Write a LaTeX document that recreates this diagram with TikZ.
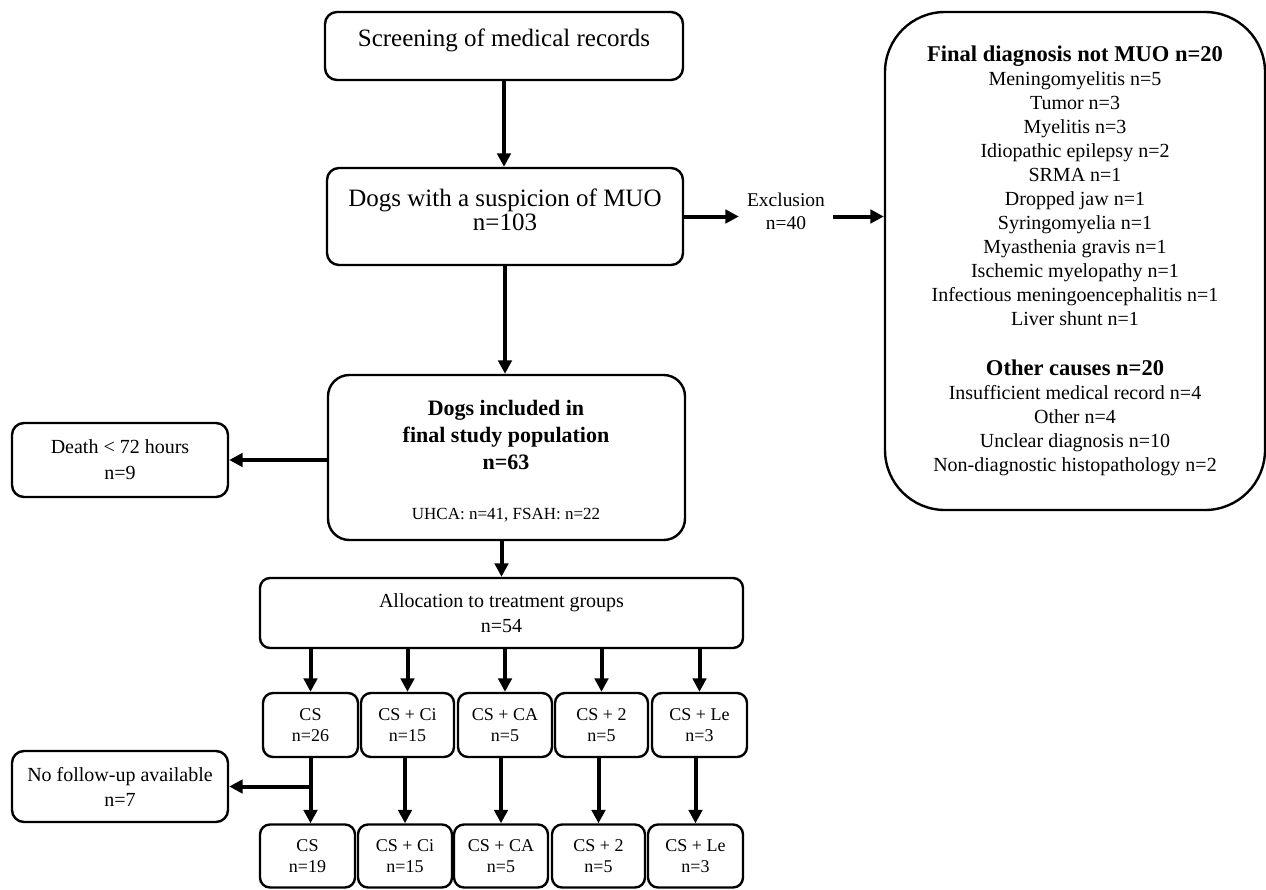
\documentclass[tikz,border=0pt]{standalone}
\usepackage{fontspec}
\setmainfont{Liberation Serif}
\usetikzlibrary{arrows.meta,calc}
\begin{document}
\begin{tikzpicture}[x=0.75pt,y=-0.75pt,
  box/.style={draw, line width=1.8pt, inner sep=0pt, align=center},
  arr/.style={line width=3pt, -{Triangle[length=10pt,width=10pt]}},
  txt/.style={inner sep=0pt, align=center},
  rowbox/.style={box, rounded corners=7.5pt, minimum height=63*0.75pt, font=\fontsize{13.5}{15.5}\selectfont},
]
\path[use as bounding box, fill=white] (0,0) rectangle (1266,889);

% main column
\node[box, rounded corners=9pt, minimum width=358*0.75pt, minimum height=68*0.75pt] (screen) at (504,46) {};
\node[txt, font=\fontsize{18.75}{18}\selectfont] (screen-t) at (504,40) {Screening of medical records};

\node[box, rounded corners=9pt, minimum width=356*0.75pt, minimum height=97*0.75pt] (susp) at (505,216.5) {};
\node[txt, font=\fontsize{18.75}{18}\selectfont] (susp-t) at (505,210) {Dogs with a suspicion of MUO\\n=103};

\node[box, rounded corners=16pt, minimum width=357*0.75pt, minimum height=165*0.75pt] (incl) at (506.5,457.5) {};
\node[txt, font=\fontsize{16.5}{20.25}\selectfont\bfseries] (incl-t) at (506,434.5) {Dogs included in\\final study population\\n=63};
\node[txt, font=\fontsize{12.75}{15}\selectfont] (incl-s) at (506,515) {UHCA: n=41, FSAH: n=22};

\node[box, rounded corners=7.5pt, minimum width=483*0.75pt, minimum height=70*0.75pt, font=\fontsize{15}{18.75}\selectfont] (alloc) at (501.5,613) {Allocation to treatment groups\\n=54};

% exclusion
\node[txt, inner xsep=6pt, font=\fontsize{14.6}{17.25}\selectfont] (excl) at (786,211.5) {Exclusion\\n=40};

\node[box, rounded corners=45pt, minimum width=380*0.75pt, minimum height=498*0.75pt, font=\fontsize{15}{18}\selectfont] (big) at (1075,261)
{{\fontsize{16.9}{18}\selectfont\bfseries Final diagnosis not MUO n=20}\\
Meningomyelitis n=5\\
Tumor n=3\\
Myelitis n=3\\
Idiopathic epilepsy n=2\\
SRMA n=1\\
Dropped jaw n=1\\
Syringomyelia n=1\\
Myasthenia gravis n=1\\
Ischemic myelopathy n=1\\
Infectious meningoencephalitis n=1\\
Liver shunt n=1\\[19.5pt]
{\fontsize{16.9}{18}\selectfont\bfseries Other causes n=20}\\
Insufficient medical record n=4\\
Other n=4\\
Unclear diagnosis n=10\\
Non-diagnostic histopathology n=2};

% side boxes
\node[box, rounded corners=9pt, minimum width=216*0.75pt, minimum height=74*0.75pt, font=\fontsize{15}{19.5}\selectfont] (death) at (120,460) {Death < 72 hours\\n=9};
\node[box, rounded corners=9pt, minimum width=216*0.75pt, minimum height=71*0.75pt, font=\fontsize{15}{18.75}\selectfont] (nofu) at (120,786.5) {No follow-up available\\n=7};

% treatment rows
\node[rowbox, minimum height=64*0.75pt, minimum width=95*0.75pt] (r1a) at (310.5,725) {CS\\n=26};
\node[rowbox, minimum height=64*0.75pt, minimum width=93*0.75pt] (r1b) at (407.5,725) {CS + Ci\\n=15};
\node[rowbox, minimum height=64*0.75pt, minimum width=94*0.75pt] (r1c) at (505,725) {CS + CA\\n=5};
\node[rowbox, minimum height=64*0.75pt, minimum width=93*0.75pt] (r1d) at (601.5,725) {CS + 2\\n=5};
\node[rowbox, minimum height=64*0.75pt, minimum width=95*0.75pt] (r1e) at (699.5,725) {CS + Le\\n=3};

\node[rowbox, minimum width=95*0.75pt] (r2a) at (307.5,856) {CS\\n=19};
\node[rowbox, minimum width=94*0.75pt] (r2b) at (405,856) {CS + Ci\\n=15};
\node[rowbox, minimum width=94*0.75pt] (r2c) at (501,856) {CS + CA\\n=5};
\node[rowbox, minimum width=93*0.75pt] (r2d) at (598.5,856) {CS + 2\\n=5};
\node[rowbox, minimum width=95*0.75pt] (r2e) at (695.5,856) {CS + Le\\n=3};

% connectors
\draw[arr] (screen.south) -- (screen.south |- susp.north);
\draw[arr] (susp.south) -- (susp.south |- incl.north);
\draw[arr] (alloc.north |- incl.south) -- (alloc.north);
\draw[arr] (susp.east) -- (excl.west |- susp.east);
\draw[arr] (excl.east |- susp.east) -- (big.west |- susp.east);
\draw[arr] (incl.west |- death.east) -- (death.east);

\draw[arr] (alloc.south -| r1a.north) -- (r1a.north);
\draw[arr] (alloc.south -| r1b.north) -- (r1b.north);
\draw[arr] (alloc.south -| r1c.north) -- (r1c.north);
\draw[arr] (alloc.south -| r1d.north) -- (r1d.north);
\draw[arr] (alloc.south -| r1e.north) -- (r1e.north);

\draw[arr] (r1a.south) -- (r1a.south |- r2a.north);
\draw[arr] (r2b.north |- r1b.south) -- (r2b.north);
\draw[arr] (r2c.north |- r1c.south) -- (r2c.north);
\draw[arr] (r2d.north |- r1d.south) -- (r2d.north);
\draw[arr] (r2e.north |- r1e.south) -- (r2e.north);
\draw[arr] (r1a.south |- nofu.east) -- (nofu.east);
\end{tikzpicture}
\end{document}
